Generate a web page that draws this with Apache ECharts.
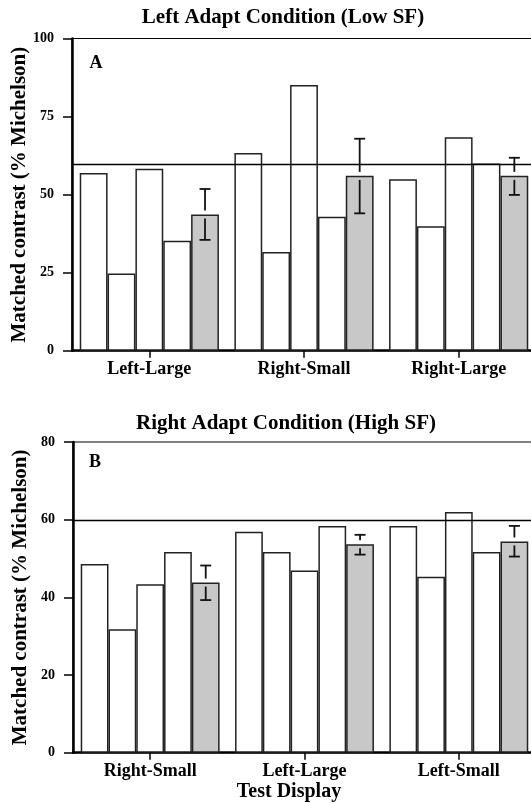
<!DOCTYPE html>
<html><head><meta charset="utf-8">
<script src="https://cdn.jsdelivr.net/npm/echarts@6/dist/echarts.min.js"></script>
<style>html,body{margin:0;padding:0;background:#fff}#c{width:531px;height:803px}</style>
</head><body><div id="c"></div>
<script>
// Panel A: Left Adapt Condition (Low SF)
const categoriesA = ['Left-Large', 'Right-Small', 'Right-Large'];
const a1 = [56.9, 63.3, 54.9];
const a2 = [24.7, 31.6, 39.9];
const a3 = [58.3, 85.1, 68.4];
const a4 = [35.2, 42.9, 60.0];
const aMean = [43.6, 56.0, 56.0];
const aErrLow = [35.5, 44.0, 49.9];
const aErrHigh = [51.8, 67.9, 61.8];
const aRef = 59.6;
const yTicksA = [0, 25, 50, 75, 100];

// Panel B: Right Adapt Condition (High SF)
const categoriesB = ['Right-Small', 'Left-Large', 'Left-Small'];
const b1 = [48.6, 56.9, 58.4];
const b2 = [31.8, 51.7, 45.3];
const b3 = [43.4, 46.9, 62.0];
const b4 = [51.7, 58.4, 51.7];
const bMean = [43.8, 53.7, 54.4];
const bErrLow = [39.3, 51.0, 50.5];
const bErrHigh = [48.2, 56.1, 58.4];
const bRef = 59.9;
const yTicksB = [0, 20, 40, 60, 80];

const FONT = 'Liberation Serif';
const chart = echarts.init(document.getElementById('c'), null, {renderer: 'canvas'});

function barSeries(data, idx, fill) {
  return {
    type: 'bar', xAxisIndex: idx, yAxisIndex: idx, data: data,
    barGap: '0%', barCategoryGap: '10%',
    itemStyle: {color: fill, borderColor: '#222', borderWidth: 1.5},
    silent: true, z: 2
  };
}

function errRender(params, api) {
  const ci = api.value(0);
  const mean = api.value(1), lo = api.value(2), hi = api.value(3);
  const band = api.size([1, 0])[0];
  const bw = band * 0.9 / 5;
  const c = api.coord([ci, mean]);
  const x = c[0] + 2 * bw;
  const yM = c[1];
  const yL = api.coord([ci, lo])[1];
  const yH = api.coord([ci, hi])[1];
  const cap = 5.5, gap = 4;
  const st = {stroke: '#111', lineWidth: 1.8, fill: null};
  return {type: 'group', children: [
    {type: 'line', shape: {x1: x, y1: yH, x2: x, y2: yM - gap}, style: st},
    {type: 'line', shape: {x1: x - cap, y1: yH, x2: x + cap, y2: yH}, style: st},
    {type: 'line', shape: {x1: x, y1: yM + gap, x2: x, y2: yL}, style: st},
    {type: 'line', shape: {x1: x - cap, y1: yL, x2: x + cap, y2: yL}, style: st}
  ]};
}

function errSeries(mean, lo, hi, idx, ref) {
  return {
    type: 'custom', xAxisIndex: idx, yAxisIndex: idx, z: 5, silent: true,
    renderItem: errRender,
    data: mean.map((m, i) => [i, m, lo[i], hi[i]]),
    markLine: {
      symbol: 'none', silent: true, label: {show: false},
      lineStyle: {color: '#000', width: 1.3, type: 'solid'},
      data: [{yAxis: ref}]
    }
  };
}

function xAxis(cats, idx) {
  return {
    type: 'category', gridIndex: idx, data: cats,
    axisLine: {show: true, lineStyle: {color: '#000', width: 2.5}},
    axisTick: {show: true, alignWithLabel: true, length: 7, lineStyle: {color: '#000', width: 1.5}},
    axisLabel: {color: '#000', fontFamily: FONT, fontWeight: 'bold', fontSize: 18, margin: 10},
    splitLine: {show: false}
  };
}

function yAxis(ticks, idx) {
  return {
    type: 'value', gridIndex: idx, min: ticks[0], max: ticks[ticks.length - 1],
    interval: ticks[1] - ticks[0],
    name: 'Matched contrast (% Michelson)', nameLocation: 'middle', nameGap: 42,
    nameMoveOverlap: false,
    nameTextStyle: {color: '#000', fontFamily: FONT, fontWeight: 'bold', fontSize: 21},
    axisLine: {show: true, lineStyle: {color: '#000', width: 2.5}},
    axisTick: {show: true, length: 9, lineStyle: {color: '#000', width: 1.5}},
    axisLabel: {color: '#000', fontFamily: FONT, fontWeight: 'bold', fontSize: 14, margin: 18},
    splitLine: {show: false}
  };
}

function txt(x, y, s, size) {
  return {type: 'text', x: x, y: y, silent: true,
    style: {text: s, fill: '#000', font: 'bold ' + size + 'px "' + FONT + '"',
      textAlign: 'center', textVerticalAlign: 'middle'}};
}

chart.setOption({
  animation: false,
  backgroundColor: '#fff',
  grid: [
    {left: 72, right: -5, top: 38.5, height: 312.2, show: true, borderColor: '#000', borderWidth: 1.2,
     backgroundColor: 'transparent', containLabel: false, outerBoundsMode: 'none'},
    {left: 73, right: -5, top: 442, height: 310.7, show: true, borderColor: '#000', borderWidth: 1.2,
     backgroundColor: 'transparent', containLabel: false, outerBoundsMode: 'none'}
  ],
  xAxis: [xAxis(categoriesA, 0), xAxis(categoriesB, 1)],
  yAxis: [yAxis(yTicksA, 0), yAxis(yTicksB, 1)],
  series: [
    barSeries(a1, 0, '#fff'), barSeries(a2, 0, '#fff'), barSeries(a3, 0, '#fff'),
    barSeries(a4, 0, '#fff'), barSeries(aMean, 0, '#c8c8c8'),
    errSeries(aMean, aErrLow, aErrHigh, 0, aRef),
    barSeries(b1, 1, '#fff'), barSeries(b2, 1, '#fff'), barSeries(b3, 1, '#fff'),
    barSeries(b4, 1, '#fff'), barSeries(bMean, 1, '#c8c8c8'),
    errSeries(bMean, bErrLow, bErrHigh, 1, bRef)
  ],
  graphic: [
    txt(283, 18, 'Left Adapt Condition (Low SF)', 21),
    txt(286, 424, 'Right Adapt Condition (High SF)', 21),
    txt(96, 63, 'A', 18),
    txt(95, 462, 'B', 18),
    txt(289, 792, 'Test Display', 20)
  ]
});
</script>
</body></html>
